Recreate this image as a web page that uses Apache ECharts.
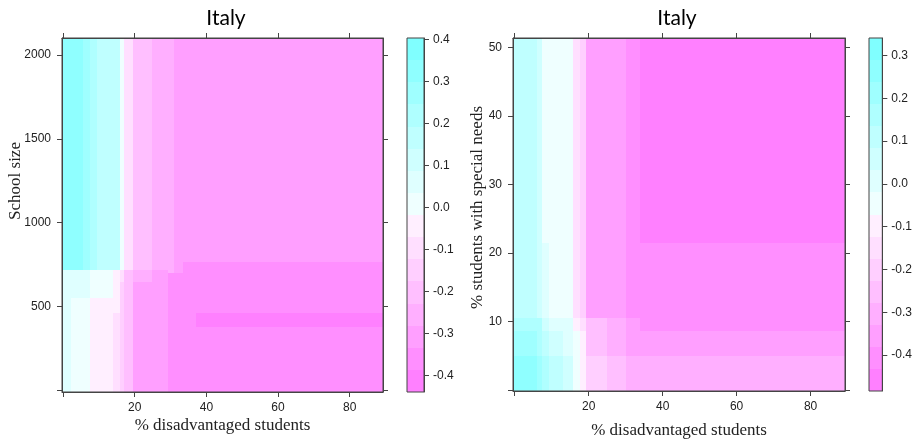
<!DOCTYPE html>
<html>
<head>
<meta charset="utf-8">
<title>Italy</title>
<script src="https://cdn.jsdelivr.net/npm/echarts@6/dist/echarts.min.js"></script>
<style>
html, body { margin: 0; padding: 0; background: #fff; }
#chart { width: 915px; height: 445px; }
</style>
</head>
<body>
<div id="chart"></div>
<script>
// ---- values ----
// left panel: % disadvantaged students (x) vs school size (y)
var leftXBreaks = [-0.3, 2.3, 5.6, 7.6, 9.6, 14, 15.8, 17, 19.5, 24.7, 29.2, 31, 33.4, 37.2, 89.3];
var leftYBreaks = [-8, 377, 464, 551, 650, 700, 718, 768, 2100];
// one row per y band, bottom to top
var leftValues = [
  [0.06, 0.01, 0.01, -0.05, -0.05, -0.10, -0.15, -0.20, -0.31, -0.31, -0.36, -0.36, -0.36, -0.36],
  [0.06, 0.01, 0.01, -0.05, -0.05, -0.10, -0.15, -0.20, -0.31, -0.31, -0.36, -0.36, -0.36, -0.41],
  [0.06, 0.01, 0.01, -0.05, -0.05, -0.05, -0.15, -0.20, -0.31, -0.31, -0.36, -0.36, -0.36, -0.36],
  [0.06, 0.06, 0.06, 0.01, 0.01, -0.05, -0.15, -0.20, -0.31, -0.31, -0.36, -0.36, -0.36, -0.36],
  [0.06, 0.06, 0.06, 0.01, 0.01, -0.05, -0.10, -0.20, -0.26, -0.31, -0.36, -0.36, -0.36, -0.36],
  [0.06, 0.06, 0.06, 0.01, 0.01, -0.05, -0.10, -0.20, -0.26, -0.31, -0.26, -0.31, -0.36, -0.36],
  [0.32, 0.32, 0.27, 0.22, 0.17, 0.17, 0.01, -0.10, -0.20, -0.26, -0.26, -0.31, -0.36, -0.36],
  [0.32, 0.32, 0.27, 0.22, 0.17, 0.17, 0.01, -0.10, -0.20, -0.26, -0.26, -0.31, -0.31, -0.31]
];
var leftXTicks = [0, 20, 40, 60, 80];
var leftXLabels = [20, 40, 60, 80];
var leftYTicks = [0, 500, 1000, 1500, 2000];
var leftYLabels = [500, 1000, 1500, 2000];
var leftColorRange = [-0.44, 0.403];
var leftColorTicks = [-0.4, -0.3, -0.2, -0.1, 0, 0.1, 0.2, 0.3, 0.4];

// right panel: % disadvantaged students (x) vs % students with special needs (y)
var rightXBreaks = [-0.45, 6.0, 7.5, 9.2, 13, 15.8, 17.6, 19.4, 25, 30.2, 33.8, 37.4, 89.3];
var rightYBreaks = [-0.15, 5, 8.6, 10.5, 21.5, 51.35];
var rightValues = [
  [0.26, 0.21, 0.16, 0.11, 0.06, -0.05, -0.10, -0.20, -0.25, -0.30, -0.30, -0.30],
  [0.21, 0.16, 0.11, 0.06, 0.01, -0.05, -0.10, -0.25, -0.30, -0.35, -0.35, -0.35],
  [0.16, 0.16, 0.06, 0.01, 0.01, -0.10, -0.15, -0.25, -0.30, -0.35, -0.41, -0.41],
  [0.11, 0.06, 0.01, -0.05, -0.05, -0.15, -0.20, -0.35, -0.35, -0.41, -0.41, -0.41],
  [0.11, 0.06, -0.05, -0.05, -0.05, -0.15, -0.20, -0.35, -0.35, -0.41, -0.46, -0.46]
];
var rightXTicks = [0, 20, 40, 60, 80];
var rightXLabels = [20, 40, 60, 80];
var rightYTicks = [0, 10, 20, 30, 40, 50];
var rightYLabels = [10, 20, 30, 40, 50];
var rightColorRange = [-0.484, 0.341];
var rightColorTicks = [-0.4, -0.3, -0.2, -0.1, 0, 0.1, 0.2, 0.3];

var colorBands = 16;

// R's cm.colors, reversed: magenta for low, white in the middle, cyan for high
function cmColors(n) {
  var half = n / 2, step = 0.5 / half, out = [];
  for (var i = 0; i < half; i++) {
    var g = Math.round(255 * (1 - (0.5 - i * step)));
    out.push('rgb(255,' + g + ',255)');
  }
  for (var j = 0; j < half; j++) {
    var r = Math.round(255 * (1 - (step + j * step)));
    out.push('rgb(' + r + ',255,255)');
  }
  return out;
}
var palette = cmColors(colorBands);

function cells(xb, yb, vals) {
  var out = [];
  vals.forEach(function (row, i) {
    row.forEach(function (v, j) {
      out.push([xb[j], xb[j + 1], yb[i], yb[i + 1], v]);
    });
  });
  return out;
}

function bands(range) {
  var w = (range[1] - range[0]) / colorBands, out = [];
  for (var k = 0; k < colorBands; k++) {
    out.push([0, 1, range[0] + k * w, range[0] + (k + 1) * w, range[0] + (k + 0.5) * w]);
  }
  return out;
}

function pieces(range) {
  var w = (range[1] - range[0]) / colorBands, out = [];
  for (var k = 0; k < colorBands; k++) {
    var p = { gte: range[0] + k * w, color: palette[k] };
    if (k < colorBands - 1) p.lt = range[0] + (k + 1) * w; else p.lte = range[1] + 1;
    if (k === 0) p.gte = range[0] - 1;
    out.push(p);
  }
  return out;
}

function renderCell(params, api) {
  var p0 = api.coord([api.value(0), api.value(2)]);
  var p1 = api.coord([api.value(1), api.value(3)]);
  var x0 = Math.round(p0[0]), x1 = Math.round(p1[0]);
  var y0 = Math.round(p1[1]), y1 = Math.round(p0[1]);
  return {
    type: 'rect',
    shape: { x: x0, y: y0, width: x1 - x0, height: y1 - y0 },
    style: { fill: api.visual('color') }
  };
}

var tickFont = { fontFamily: "'Liberation Sans Narrow', 'Liberation Sans', Arial, sans-serif", fontSize: 12, color: '#222' };
var nameFont = { fontFamily: "'Liberation Serif', 'DejaVu Serif', serif", fontSize: 17, color: '#222' };
var lineColor = '#444';

function plain(v) { return String(v); }

function valueAxis(o) {
  return {
    type: 'value',
    gridIndex: o.grid,
    position: o.position,
    min: o.min,
    max: o.max,
    show: o.show !== false,
    z: 6,
    name: o.name || '',
    nameLocation: 'middle',
    nameGap: o.nameGap || 0,
    nameMoveOverlap: false,
    nameTextStyle: Object.assign({}, nameFont, o.namePadding ? { padding: o.namePadding } : {}),
    axisLine: { show: true, onZero: false, lineStyle: { color: lineColor, width: 1 } },
    splitLine: { show: false },
    axisTick: { show: !!o.ticks, inside: false, length: 5, lineStyle: { color: lineColor, width: 1 }, customValues: o.ticks },
    axisLabel: Object.assign({
      show: !!o.labels,
      margin: o.margin || 8,
      customValues: o.labels,
      formatter: o.formatter || plain
    }, tickFont)
  };
}

var chart = echarts.init(document.getElementById('chart'));

var grids = [
  { left: 62, top: 38, width: 321, height: 354 },
  { left: 407, top: 38, width: 17, height: 354 },
  { left: 513, top: 38, width: 332, height: 353 },
  { left: 869, top: 38, width: 18, height: 353 }
];
grids.forEach(function (g) {
  g.show = true;
  g.z = 5;
  g.backgroundColor = 'transparent';
  g.borderColor = lineColor;
  g.borderWidth = 1;
});

var cbFormat = function (v) { return v.toFixed(1); };

chart.setOption({
  backgroundColor: '#fff',
  animation: false,
  title: [
    { text: 'Italy', left: 221, top: 3, textAlign: 'center',
      textStyle: { fontFamily: 'Lato, sans-serif', fontSize: 21, fontWeight: 'normal', color: '#000' } },
    { text: 'Italy', left: 672, top: 3, textAlign: 'center',
      textStyle: { fontFamily: 'Lato, sans-serif', fontSize: 21, fontWeight: 'normal', color: '#000' } }
  ],
  grid: grids,
  xAxis: [
    valueAxis({ grid: 0, position: 'bottom', min: leftXBreaks[0], max: leftXBreaks[leftXBreaks.length - 1],
      ticks: leftXTicks, labels: leftXLabels, margin: 10, name: '% disadvantaged students', nameGap: 25 }),
    valueAxis({ grid: 0, position: 'top', min: leftXBreaks[0], max: leftXBreaks[leftXBreaks.length - 1], ticks: leftXTicks }),
    valueAxis({ grid: 1, position: 'bottom', min: 0, max: 1, show: false }),
    valueAxis({ grid: 2, position: 'bottom', min: rightXBreaks[0], max: rightXBreaks[rightXBreaks.length - 1],
      ticks: rightXTicks, labels: rightXLabels, margin: 10, name: '% disadvantaged students', nameGap: 31 }),
    valueAxis({ grid: 2, position: 'top', min: rightXBreaks[0], max: rightXBreaks[rightXBreaks.length - 1], ticks: rightXTicks }),
    valueAxis({ grid: 3, position: 'bottom', min: 0, max: 1, show: false })
  ],
  yAxis: [
    valueAxis({ grid: 0, position: 'left', min: leftYBreaks[0], max: leftYBreaks[leftYBreaks.length - 1],
      ticks: leftYTicks, labels: leftYLabels, margin: 11, name: 'School size', nameGap: 38, namePadding: [0, 0, 0, 68] }),
    valueAxis({ grid: 0, position: 'right', min: leftYBreaks[0], max: leftYBreaks[leftYBreaks.length - 1], ticks: leftYTicks }),
    valueAxis({ grid: 1, position: 'right', min: leftColorRange[0], max: leftColorRange[1],
      ticks: leftColorTicks, labels: leftColorTicks, margin: 9, formatter: cbFormat }),
    valueAxis({ grid: 2, position: 'left', min: rightYBreaks[0], max: rightYBreaks[rightYBreaks.length - 1],
      ticks: rightYTicks, labels: rightYLabels, margin: 11, name: '% students with special needs', nameGap: 27, namePadding: [0, 0, 0, 14] }),
    valueAxis({ grid: 2, position: 'right', min: rightYBreaks[0], max: rightYBreaks[rightYBreaks.length - 1], ticks: rightYTicks }),
    valueAxis({ grid: 3, position: 'right', min: rightColorRange[0], max: rightColorRange[1],
      ticks: rightColorTicks, labels: rightColorTicks, margin: 9, formatter: cbFormat })
  ],
  visualMap: [
    { type: 'piecewise', show: false, dimension: 4, seriesIndex: [0, 1], pieces: pieces(leftColorRange) },
    { type: 'piecewise', show: false, dimension: 4, seriesIndex: [2, 3], pieces: pieces(rightColorRange) }
  ],
  series: [
    { type: 'custom', xAxisIndex: 0, yAxisIndex: 0, clip: true, silent: true, z: 1,
      encode: { x: [0, 1], y: [2, 3] }, renderItem: renderCell, data: cells(leftXBreaks, leftYBreaks, leftValues) },
    { type: 'custom', xAxisIndex: 2, yAxisIndex: 2, clip: true, silent: true, z: 1,
      encode: { x: [0, 1], y: [2, 3] }, renderItem: renderCell, data: bands(leftColorRange) },
    { type: 'custom', xAxisIndex: 3, yAxisIndex: 3, clip: true, silent: true, z: 1,
      encode: { x: [0, 1], y: [2, 3] }, renderItem: renderCell, data: cells(rightXBreaks, rightYBreaks, rightValues) },
    { type: 'custom', xAxisIndex: 5, yAxisIndex: 5, clip: true, silent: true, z: 1,
      encode: { x: [0, 1], y: [2, 3] }, renderItem: renderCell, data: bands(rightColorRange) }
  ]
});

window.addEventListener('resize', function () {
  chart.resize();
});
</script>
</body>
</html>
